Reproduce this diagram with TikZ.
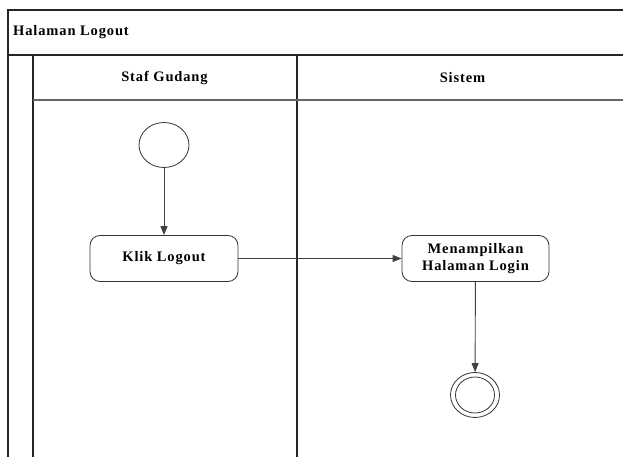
\documentclass[tikz,border=0pt]{standalone}
\usepackage{fontspec}
\setmainfont{Liberation Serif}
\newfontfamily\lblfont[LetterSpace=6]{Liberation Serif}
\usetikzlibrary{arrows.meta,shapes.geometric}
\begin{document}
\begin{tikzpicture}[x=1pt,y=-1pt,
  frame/.style={draw=black!85,line width=1.1pt},
  sep/.style={draw=black!60,line width=1.4pt},
  lblsize/.style={font=\lblfont\fontsize{14.5}{17}\selectfont\bfseries},
  txt/.style={lblsize,align=center,inner sep=0pt},
  act/.style={draw=black!80,line width=0.8pt,rounded corners=10pt,minimum width=148pt,minimum height=46pt,
    lblsize,align=center,inner sep=0pt},
  oval/.style={draw=black!80,line width=0.8pt,ellipse,inner sep=0pt},
  flow/.style={draw=black!75,line width=0.9pt,-{Triangle[length=9pt,width=7pt]}}]
  \useasboundingbox (0,0) rectangle (623,457);
  % swimlane frame
  \draw[frame] (623,10) -- (8,10) -- (8,457);
  \draw[frame] (8,55) -- (623,55);
  \draw[frame] (33,55) -- (33,457);
  \draw[frame] (297,55) -- (297,457);
  \draw[sep] (33,100) -- (623,100);
  % headers
  \node[txt,anchor=west] (title) at (13,32) {Halaman Logout};
  \node[txt] (lane1) at (164.5,78) {Staf Gudang};
  \node[txt] (lane2) at (462.5,78) {Sistem};
  % activity nodes
  \node[oval,minimum width=50pt,minimum height=45pt] (start) at (164,145) {};
  \node[act] (klik) at (164,258.5) {Klik Logout};
  \node[act,minimum width=147pt] (tampil) at (475.5,258.5) {Menampilkan\\Halaman Login};
  \node[oval,minimum width=49pt,minimum height=45pt] (endo) at (475,395) {};
  \node[oval,minimum width=39pt,minimum height=36pt] (endi) at (475,395) {};
  % flows
  \draw[flow] (start) -- (klik);
  \draw[flow] (klik) -- (tampil);
  \draw[flow] (tampil) -- (endo);
\end{tikzpicture}
\end{document}
